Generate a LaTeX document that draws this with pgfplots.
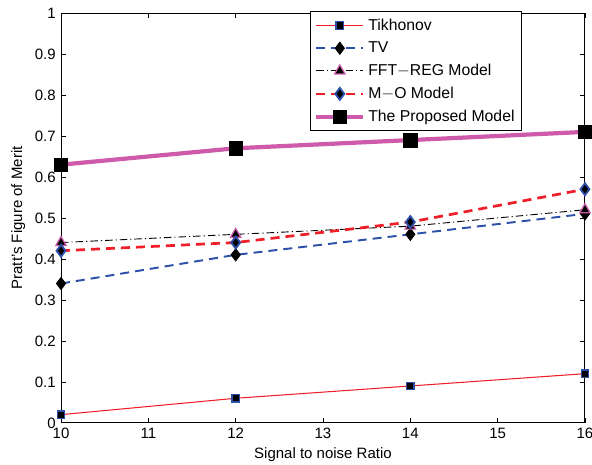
\documentclass[border=0pt]{standalone}
\usepackage{pgfplots}
\pgfplotsset{compat=1.18}
\usepackage{fontspec}
\setmainfont{Liberation Sans}
\definecolor{mred}{RGB}{240,30,40}
\definecolor{mblue}{RGB}{45,80,170}
\definecolor{mpink}{RGB}{205,90,170}
\begin{document}
\begin{tikzpicture}
\begin{axis}[
  name=ax,
  scale only axis,
  width=349.4pt, height=273.3pt,
  xmin=10, xmax=16, ymin=0, ymax=1,
  xtick={10,11,...,16},
  ytick={0,0.1,...,1.0},
  yticklabels={0,0.1,0.2,0.3,0.4,0.5,0.6,0.7,0.8,0.9,1},
  tick align=inside,
  major tick length=3pt,
  axis line style={line width=0.7pt},
  every tick/.style={black, line width=0.5pt},
  /pgf/number format/assume math mode=true,
  tick label style={font=\fontsize{10}{12}\selectfont},
  label style={font=\fontsize{10}{12}\selectfont},
  xlabel={Signal to noise Ratio},
  ylabel={Pratt's Figure of Merit},
  xlabel style={at={(axis description cs:0.5,0)}, anchor=center, yshift=-21pt},
  ylabel style={at={(axis description cs:0,0.5)}, anchor=center, yshift=28.5pt},
  legend style={at={(0.475,1.004)}, anchor=north west, draw=black, line width=0.6pt,
     font=\fontsize{10.5}{13}\selectfont, inner sep=2.6pt, row sep=2.2pt},
  legend cell align=left,
  legend image code/.code={\draw[mark repeat=2,mark phase=2] plot coordinates {(0cm,0cm)(0.55cm,0cm)(1.1cm,0cm)};},
]
\addplot[mred, line width=0.7pt, mark=square*, mark size=2.5pt,
  mark options={solid, fill=black, draw=mblue, line width=0.8pt}]
  coordinates {(10,0.02) (12,0.06) (14,0.09) (16,0.12)};
\addlegendentry{Tikhonov}
\addplot[mblue, line width=1.3pt, dash pattern=on 6pt off 4pt, mark=diamond*, mark size=4.2pt,
  mark options={solid, fill=black, draw=black, line width=0.4pt}]
  coordinates {(10,0.34) (12,0.41) (14,0.46) (16,0.51)};
\addlegendentry{TV}
\addplot[black, line width=0.6pt, dash pattern=on 5pt off 2pt on 0.8pt off 2pt, mark=triangle*, mark size=4pt,
  mark options={solid, fill=black, draw=mpink, line width=0.8pt}]
  coordinates {(10,0.44) (12,0.46) (14,0.48) (16,0.52)};
\addlegendentry{FFT$-$REG Model}
\addplot[mred, line width=1.8pt, dash pattern=on 6pt off 4pt, mark=diamond*, mark size=4pt,
  mark options={solid, fill=black, draw=mblue, line width=1.2pt}]
  coordinates {(10,0.42) (12,0.44) (14,0.49) (16,0.57)};
\addlegendentry{M$-$O Model}
\addplot[mpink, line width=2.8pt, mark=square*, mark size=4.5pt,
  mark options={solid, fill=black, draw=black, line width=0.4pt}]
  coordinates {(10,0.63) (12,0.67) (14,0.69) (16,0.71)};
\addlegendentry{The Proposed Model}
\end{axis}
\pgfresetboundingbox
\useasboundingbox ([xshift=-40.7pt,yshift=-28pt]ax.south west) rectangle ([xshift=4.7pt,yshift=8.7pt]ax.north east);
\end{tikzpicture}
\end{document}
